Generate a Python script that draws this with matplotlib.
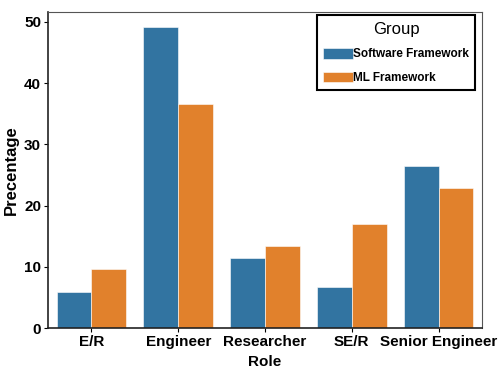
import matplotlib
matplotlib.use("Agg")
import matplotlib.pyplot as plt
import numpy as np

# ---------------------------------------------------------------------------
# data
# ---------------------------------------------------------------------------
roles = ["E/R", "Engineer", "Researcher", "SE/R", "Senior Engineer"]
groups = ["Software Framework", "ML Framework"]
software = [5.8, 49.2, 11.4, 6.75, 26.4]
ml = [9.6, 36.6, 13.45, 17.0, 22.8]
colors = ["#3274a1", "#e1812c"]

plt.rcParams["font.family"] = ["Liberation Sans", "DejaVu Sans"]

fig = plt.figure(figsize=(4.98, 3.74), dpi=100)
ax = fig.add_axes([48 / 498, 1 - 328 / 374, 434 / 498, 316 / 374])

x = np.arange(len(roles))
w = 0.4
for i, (vals, name) in enumerate(zip([software, ml], groups)):
    ax.bar(x - 0.2 + i * w, vals, width=w, color=colors[i], label=name,
           edgecolor="white", linewidth=0.4)

ax.set_xlim(-0.5, 4.5)
ax.set_ylim(0, 51.6)
ax.set_xticks(x)
ax.set_xticklabels(roles, fontsize=11, fontweight="bold")
ax.set_yticks([0, 10, 20, 30, 40, 50])
ax.tick_params(axis="y", labelsize=11, length=3, pad=2)
ax.tick_params(axis="x", length=3, pad=2)
for lab in ax.get_yticklabels():
    lab.set_fontweight("bold")
ax.set_xlabel("Role", fontsize=11, fontweight="bold", labelpad=4)
ax.set_ylabel("Precentage", fontsize=12, fontweight="bold", labelpad=4)

for side in ["left", "bottom"]:
    ax.spines[side].set_color("#222222")
    ax.spines[side].set_linewidth(1.2)
for side in ["top", "right"]:
    ax.spines[side].set_color("#555555")
    ax.spines[side].set_linewidth(0.8)

leg = ax.legend(title="Group", loc="upper right", fontsize=8.5,
                title_fontsize=12, fancybox=False, framealpha=1,
                handlelength=2.5, handleheight=1.0, handletextpad=0.0,
                borderaxespad=0.2, borderpad=0.55, labelspacing=0.95,
                bbox_to_anchor=(0.99, 0.997))
leg.get_frame().set_edgecolor("black")
leg.get_frame().set_linewidth(1.5)
for t in leg.get_texts():
    t.set_fontweight("bold")

fig.savefig("out.png", dpi=100)
